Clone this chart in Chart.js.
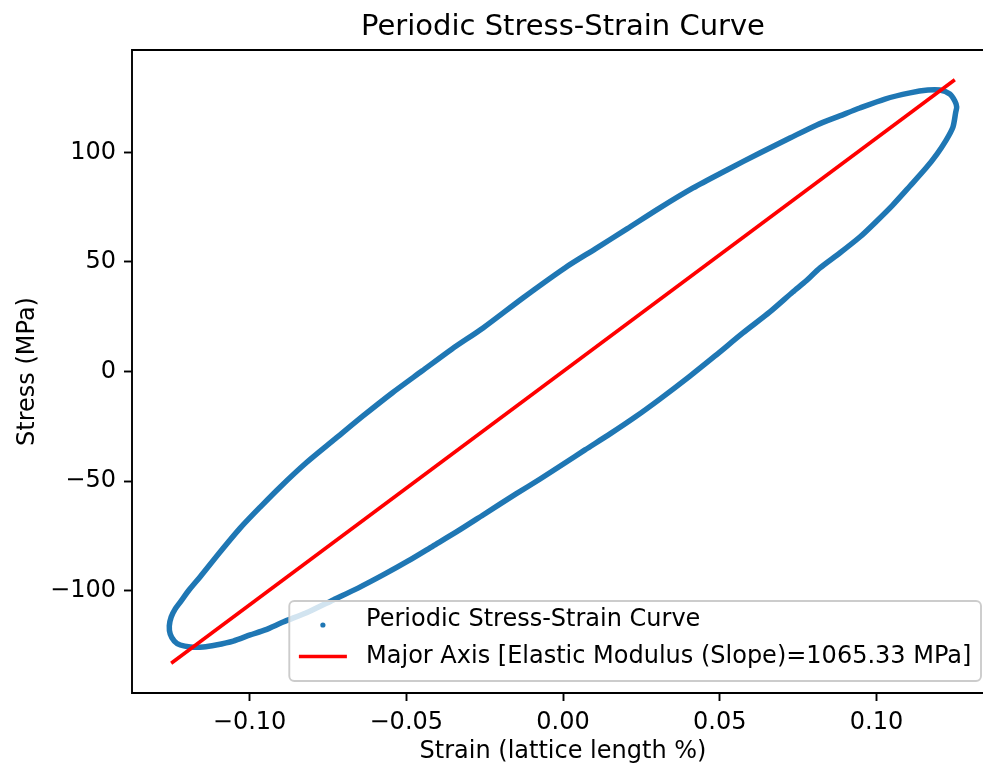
<!DOCTYPE html>
<html>
<head>
<meta charset="utf-8">
<script src="https://cdn.jsdelivr.net/npm/chart.js@4.4.1/dist/chart.umd.min.js"></script>
<style>
    html, body { margin: 0; padding: 0; background: #fff; overflow: hidden; width: 983px; height: 768px; }
    #wrap { position: absolute; left: 0; top: 0; width: 1000px; height: 768px; }
</style>
</head>
<body>
<div id="wrap"><canvas id="stressChart" width="1000" height="768"></canvas></div>
<script>
    // Data (one loop, in drawing order)
    // ----------------------------------------------
    const loopStrain = [
        0.1253, 0.1244, 0.1221, 0.1193, 0.1158, 0.1107, 0.1052, 0.0998, 0.0947, 0.0883,
        0.0820, 0.0775, 0.0733, 0.0660, 0.0574, 0.0485, 0.0405, 0.0309, 0.0230, 0.0150,
        0.0070, 0.0006, -0.0073, -0.0150, -0.0255, -0.0335, -0.0415, -0.0494, -0.0574, -0.0654,
        -0.0733, -0.0813, -0.0893, -0.0950, -0.0998, -0.1052, -0.1107, -0.1148, -0.1189, -0.1221,
        -0.1240, -0.1253, -0.1256, -0.1250, -0.1237, -0.1221, -0.1193, -0.1158, -0.1094, -0.1030,
        -0.0966, -0.0902, -0.0820, -0.0727, -0.0638, -0.0545, -0.0450, -0.0354, -0.0255, -0.0128,
        0.0006, 0.0102, 0.0204, 0.0309, 0.0415, 0.0523, 0.0628, 0.0724, 0.0810, 0.0883,
        0.0947, 0.1027, 0.1107, 0.1164, 0.1202, 0.1234, 0.1250, 0.1256, 0.1253
    ];
    const loopStress = [
        118.5, 111.6, 105.3, 99.3, 92.9, 84.7, 76.0, 68.3, 61.4, 54.1,
        47.3, 41.3, 36.3, 27.2, 17.6, 7.1, -2.1, -12.6, -20.8, -28.5,
        -35.8, -41.8, -49.1, -55.9, -65.5, -72.8, -79.7, -86.5, -92.9, -98.9,
        -104.3, -109.8, -114.4, -118.0, -120.3, -123.1, -124.9, -125.8, -125.8, -124.9,
        -123.1, -119.9, -116.2, -112.1, -108.4, -105.3, -99.8, -93.8, -82.4, -71.5,
        -61.9, -52.7, -41.8, -30.8, -20.3, -9.8, 0.2, 10.3, 19.9, 33.6,
        47.3, 55.9, 65.1, 74.7, 83.8, 92.0, 99.8, 106.6, 112.6, 116.7,
        120.3, 124.4, 127.2, 128.5, 128.5, 126.7, 123.5, 120.8, 118.5
    ];
    const axisStrain = [-0.125, 0.125];
    const axisStress = [-133.2, 133.2];

    const chartTitle   = 'Periodic Stress-Strain Curve';
    const seriesLabels = [
        'Periodic Stress-Strain Curve',
        'Major Axis [Elastic Modulus (Slope)=1065.33 MPa]'
    ];

    const xTicks      = [-0.10, -0.05, 0, 0.05, 0.10];
    const xTickLabels = ['\u22120.10', '\u22120.05', '0.00', '0.05', '0.10'];
    const yTicks      = [-100, -50, 0, 50, 100];
    const yTickLabels = ['\u2212100', '\u221250', '0', '50', '100'];

    const blue = '#1f77b4';
    const red  = '#ff0000';
    const fontFamily = '"DejaVu Sans", sans-serif';

    Chart.defaults.color = '#000';
    Chart.defaults.font.family = fontFamily;


    // Spines, title over the plot area and an in-plot legend like matplotlib's
    // ----------------------------------------------
    const framePlugin = {
        id: 'frame',
        afterDatasetsDraw(chart) {
            const { ctx, chartArea: a } = chart;
            // the right spine sits past the edge of the picture
            ctx.save();
            ctx.strokeStyle = '#000';
            ctx.lineWidth = 1.9;
            ctx.beginPath();
            ctx.moveTo(a.right + 1, a.top);
            ctx.lineTo(a.left, a.top);
            ctx.lineTo(a.left, a.bottom);
            ctx.lineTo(a.right + 1, a.bottom);
            ctx.stroke();
            ctx.restore();
        },
        afterDraw(chart) {
            const { ctx, chartArea: a } = chart;
            ctx.save();

            // title, centred on the axes
            ctx.font = `29px ${fontFamily}`;
            ctx.fillStyle = '#000';
            ctx.textAlign = 'center';
            ctx.textBaseline = 'middle';
            ctx.fillText(chartTitle, (a.left + a.right) / 2, 27.5);

            // legend, lower right
            const fs = 24;
            const sets = chart.data.datasets;
            ctx.font = `${fs}px ${fontFamily}`;
            const textW = Math.max(...sets.map(d => ctx.measureText(d.label).width));
            const pad = 0.4 * fs, handle = 2 * fs, gap = 0.8 * fs;
            const w = pad * 2 + handle + gap + textW;
            const h = 80;
            const right = a.right - 13, bottom = a.bottom - 12;
            const left = right - w, top = bottom - h;

            ctx.beginPath();
            ctx.roundRect(left, top, w, h, 5);
            ctx.fillStyle = 'rgba(255,255,255,0.8)';
            ctx.fill();
            ctx.strokeStyle = '#cccccc';
            ctx.lineWidth = 1.9;
            ctx.stroke();

            const rows = [top + 19, top + 55.5];
            sets.forEach((d, i) => {
                const cy = rows[i];
                const hx = left + pad;
                if (i === 0) {
                    ctx.beginPath();
                    ctx.arc(hx + handle / 2, cy + 5, 2.6, 0, Math.PI * 2);
                    ctx.fillStyle = d.borderColor;
                    ctx.fill();
                } else {
                    ctx.beginPath();
                    ctx.moveTo(hx, cy);
                    ctx.lineTo(hx + handle, cy);
                    ctx.strokeStyle = d.borderColor;
                    ctx.lineWidth = 3.6;
                    ctx.stroke();
                }
                ctx.fillStyle = '#000';
                ctx.textBaseline = 'middle';
                ctx.textAlign = 'left';
                ctx.fillText(d.label, hx + handle + gap, cy);
            });
            ctx.restore();
        }
    };


    // Chart
    // ----------------------------------------------
    const stressChart = new Chart(
        document.getElementById('stressChart'), {
            type: 'scatter',
            data: {
                datasets: [
                    {
                        label: seriesLabels[0],
                        data: loopStrain.map((x, i) => ({ x: x, y: loopStress[i] })),
                        showLine: true,
                        borderColor: blue,
                        backgroundColor: blue,
                        borderWidth: 5.5,
                        pointRadius: 0,
                        tension: 0.25,
                        order: 1
                    },
                    {
                        label: seriesLabels[1],
                        data: axisStrain.map((x, i) => ({ x: x, y: axisStress[i] })),
                        showLine: true,
                        borderColor: red,
                        backgroundColor: red,
                        borderWidth: 3.6,
                        pointRadius: 0,
                        order: 0
                    }
                ]
            },
            options: {
                responsive: false,
                animation: false,
                // the canvas is wider than the picture: the axes run past its right edge
                layout: {
                    padding: { left: 0, right: 6, top: 50, bottom: 0 }
                },
                plugins: {
                    legend: { display: false },
                    tooltip: { enabled: false },
                    title: { display: false }
                },
                scales: {
                    x: {
                        type: 'linear',
                        min: -0.1375,
                        max: 0.1375,
                        afterBuildTicks: axis => { axis.ticks = xTicks.map(v => ({ value: v })); },
                        afterFit: axis => { axis.height = 75; },
                        border: { display: false },
                        grid: {
                            drawOnChartArea: false,
                            tickLength: 8,
                            tickWidth: 1.9,
                            tickColor: '#000'
                        },
                        ticks: {
                            font: { size: 24 },
                            color: '#000',
                            padding: 7.5,
                            maxRotation: 0,
                            autoSkip: false,
                            callback: (v, i) => xTickLabels[i]
                        },
                        title: {
                            display: true,
                            text: 'Strain (lattice length %)',
                            color: '#000',
                            font: { size: 24, lineHeight: 1.2 },
                            padding: { top: 0, bottom: 2 }
                        }
                    },
                    y: {
                        type: 'linear',
                        min: -146.8,
                        max: 146.8,
                        afterBuildTicks: axis => { axis.ticks = yTicks.map(v => ({ value: v })); },
                        afterFit: axis => { axis.width = 132; },
                        border: { display: false },
                        grid: {
                            drawOnChartArea: false,
                            tickLength: 8,
                            tickWidth: 1.9,
                            tickColor: '#000'
                        },
                        ticks: {
                            font: { size: 24 },
                            color: '#000',
                            padding: 8,
                            autoSkip: false,
                            callback: (v, i) => yTickLabels[i]
                        },
                        title: {
                            display: true,
                            text: 'Stress (MPa)',
                            color: '#000',
                            font: { size: 24, lineHeight: 1.2 },
                            padding: { top: 13, bottom: 0 }
                        }
                    }
                }
            },
            plugins: [framePlugin]
        }
    );
</script>
</body>
</html>
